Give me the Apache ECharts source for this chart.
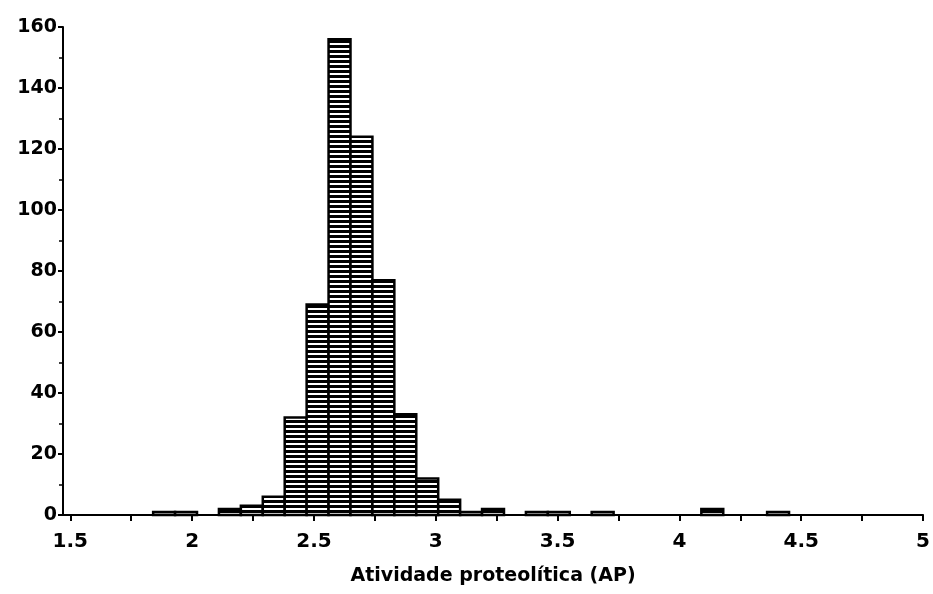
<!DOCTYPE html>
<html>
<head>
<meta charset="utf-8">
<script src="https://cdn.jsdelivr.net/npm/echarts@6/dist/echarts.min.js"></script>
<style>html,body{margin:0;padding:0;background:#fff}#c{width:933px;height:594px}</style>
</head>
<body>
<div id="c"></div>
<script>
// Bin lower edges (width 0.09) and counts
const binStart = [1.84,1.93,2.02,2.11,2.20,2.29,2.38,2.47,2.56,2.65,2.74,2.83,2.92,3.01,3.10,3.19,3.28,3.37,3.46,3.55,3.64,3.73,3.82,3.91,4.00,4.09,4.18,4.27,4.36];
const binEnd   = [1.93,2.02,2.11,2.20,2.29,2.38,2.47,2.56,2.65,2.74,2.83,2.92,3.01,3.10,3.19,3.28,3.37,3.46,3.55,3.64,3.73,3.82,3.91,4.00,4.09,4.18,4.27,4.36,4.45];
const counts   = [1,1,0,2,3,6,32,69,156,124,77,33,12,5,1,2,0,1,1,0,1,0,0,0,0,2,0,0,1];
const xLabelValues = [1.5,2,2.5,3,3.5,4,4.5,5];
const xTickValues = [1.5,1.75,2,2.25,2.5,2.75,3,3.25,3.5,3.75,4,4.25,4.5,4.75,5];
const xTitle = 'Atividade proteolítica (AP)';

const pc = document.createElement('canvas');
pc.width = 8; pc.height = 5;
const g = pc.getContext('2d');
g.fillStyle = '#000'; g.fillRect(0,0,8,5);
g.fillStyle = '#fff'; g.fillRect(0,3,8,2);

const data = binStart.map((s,i)=>[s, binEnd[i], counts[i]]);
const chart = echarts.init(document.getElementById('c'), null, {renderer:'canvas'});
const FONT = '"DejaVu Sans", sans-serif';
chart.setOption({
  animation:false,
  grid:{left:63, right:8, top:27, bottom:79},
  xAxis:{
    type:'value', min:1.47, max:5,
    axisLine:{show:true, lineStyle:{color:'#000', width:2}},
    axisTick:{show:true, customValues:xTickValues, length:6, lineStyle:{color:'#000', width:2}},
    axisLabel:{customValues:xLabelValues, margin:17, color:'#000', fontFamily:FONT, fontWeight:'bold', fontSize:20},
    splitLine:{show:false},
    name:xTitle, nameLocation:'middle', nameGap:52,
    nameTextStyle:{color:'#000', fontFamily:FONT, fontWeight:'bold', fontSize:19}
  },
  yAxis:{
    type:'value', min:0, max:160, interval:20,
    axisLine:{show:true, lineStyle:{color:'#000', width:2}},
    axisTick:{show:true, length:5, lineStyle:{color:'#000', width:2}},
    minorTick:{show:true, splitNumber:2, length:4, lineStyle:{color:'#000', width:1.5}},
    axisLabel:{margin:6, color:'#000', fontFamily:FONT, fontWeight:'bold', fontSize:19, padding:[0,0,10,0]},
    splitLine:{show:false}
  },
  series:[{
    type:'custom',
    data:data,
    encode:{x:[0,1], y:2},
    renderItem:function(params, api){
      const v = api.value(2);
      if (!v) return null;
      const p0 = api.coord([api.value(0), v]);
      const p1 = api.coord([api.value(1), 0]);
      return {
        type:'rect',
        shape:{x:p0[0], y:p0[1], width:p1[0]-p0[0], height:p1[1]-p0[1]},
        style:{fill:{image:pc, repeat:'repeat'}, stroke:'#000', lineWidth:2.5}
      };
    }
  }]
});
</script>
</body>
</html>
